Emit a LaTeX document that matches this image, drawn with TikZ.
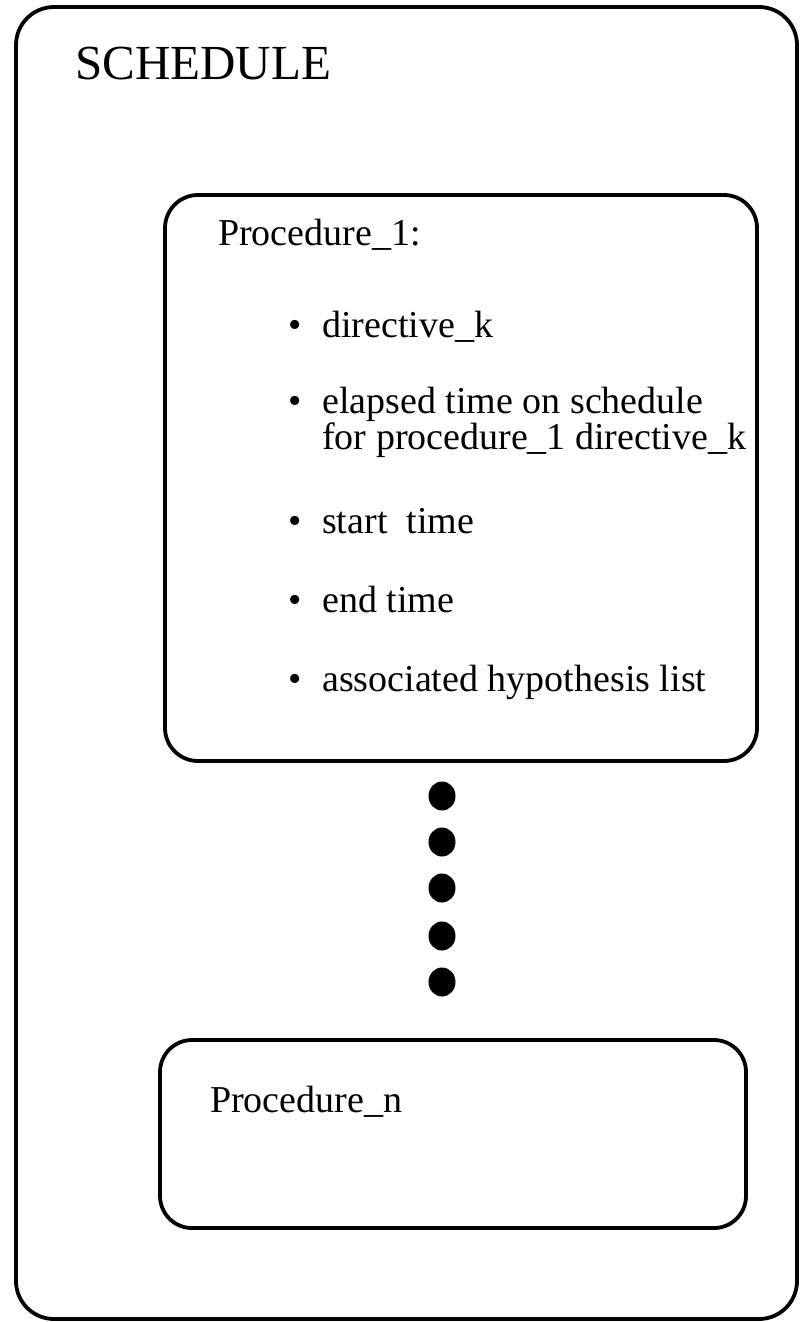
\documentclass[tikz,border=0pt]{standalone}
\usepackage{fontspec}
\setmainfont{Liberation Serif}
\begin{document}
\begin{tikzpicture}[x=1pt,y=-1pt,
  boxline/.style={line width=3.8pt, rounded corners=#1},
  itemtext/.style={anchor=base west, inner sep=0pt, font=\fontsize{38}{40}\selectfont},
  bul/.style={anchor=base, inner sep=0pt, font=\fontsize{38}{40}\selectfont},
  bigdot/.style={fill=black}]
\useasboundingbox (0,0) rectangle (802,1322);
% outer box
\draw[boxline=38pt] (16,7) rectangle (797,1319);
\node[anchor=base west, inner sep=0pt, font=\fontsize{49}{50}\selectfont] (sched) at (75,80) {SCHEDULE};
% procedure 1 box
\draw[boxline=33pt] (165,195) rectangle (757,761);
\node[itemtext] (p1) at (218,245) {Procedure\_1:};
\node[bul] (b1) at (295,337) {•};
\node[itemtext] (t1) at (322,337) {directive\_k};
\node[bul] (b2) at (295,413) {•};
\node[itemtext] (t2) at (322,413) {elapsed time on schedule};
\node[itemtext] (t2b) at (322,449) {for procedure\_1 directive\_k};
\node[bul] (b3) at (295,533) {•};
\node[itemtext] (t3) at (322,533) {start\ \ time};
\node[bul] (b4) at (295,612) {•};
\node[itemtext] (t4) at (322,612) {end time};
\node[bul] (b5) at (295,691) {•};
\node[itemtext] (t5) at (322,691) {associated hypothesis list};
% dots
\foreach \yy in {796,842,888,936,982}
  \fill[bigdot] (442,\yy) ellipse [x radius=13.5pt, y radius=14.5pt];
% procedure n box
\draw[boxline=32pt] (160,1040) rectangle (746,1228);
\node[itemtext] (pn) at (210,1112) {Procedure\_n};
\end{tikzpicture}
\end{document}
